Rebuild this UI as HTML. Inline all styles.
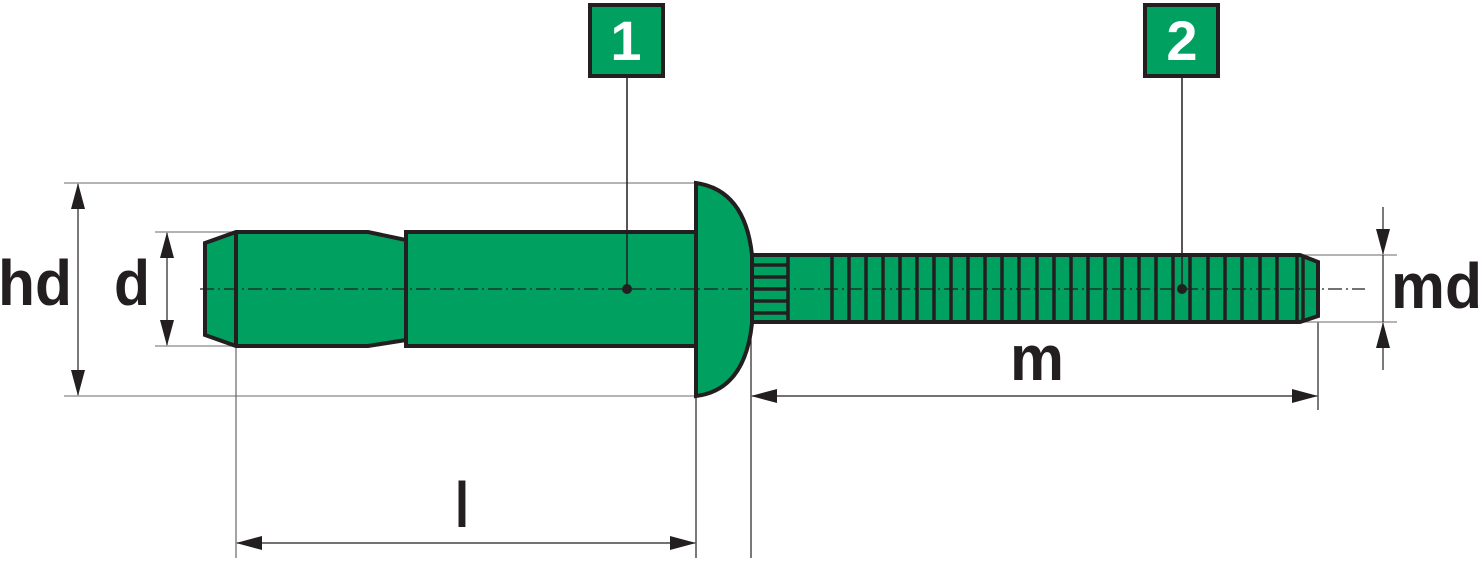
<!DOCTYPE html>
<html><head><meta charset="utf-8"><style>
html,body{margin:0;padding:0;background:#fff;}
svg{display:block;}
text{font-family:"Liberation Sans",sans-serif;font-weight:bold;}
</style></head><body>
<svg width="1482" height="562" viewBox="0 0 1482 562" xmlns="http://www.w3.org/2000/svg">
<defs>
<marker id="a" markerWidth="26" markerHeight="16" refX="25" refY="8" orient="auto" markerUnits="userSpaceOnUse">
<path d="M0,1 L26,8 L0,15 Z" fill="#231f20"/></marker>
</defs>
<g stroke="#231f20" stroke-width="1.2" fill="none">
<!-- hd extension -->
<line x1="64" y1="183" x2="696" y2="183" stroke="#888"/>
<line x1="64" y1="396" x2="696" y2="396" stroke="#888"/>
<line x1="78" y1="289" x2="78" y2="184" marker-end="url(#a)"/>
<line x1="78" y1="289" x2="78" y2="395" marker-end="url(#a)"/>
<!-- d -->
<line x1="155" y1="232" x2="236" y2="232" stroke="#888"/>
<line x1="155" y1="346" x2="236" y2="346" stroke="#888"/>
<line x1="167" y1="289" x2="167" y2="233" marker-end="url(#a)"/>
<line x1="167" y1="289" x2="167" y2="345" marker-end="url(#a)"/>
<!-- l -->
<line x1="236" y1="346" x2="236" y2="558" stroke="#666"/>
<line x1="696" y1="396" x2="696" y2="558"/>
<line x1="466" y1="543" x2="237" y2="543" marker-end="url(#a)"/>
<line x1="466" y1="543" x2="695" y2="543" marker-end="url(#a)"/>
<!-- m -->
<line x1="751" y1="323" x2="751" y2="558"/>
<line x1="1318" y1="322" x2="1318" y2="410"/>
<line x1="1035" y1="396" x2="752" y2="396" marker-end="url(#a)"/>
<line x1="1035" y1="396" x2="1317" y2="396" marker-end="url(#a)"/>
<!-- md -->
<line x1="1303" y1="255" x2="1397" y2="255" stroke="#888"/>
<line x1="1303" y1="322" x2="1397" y2="322" stroke="#888"/>
<line x1="1383" y1="207" x2="1383" y2="254" marker-end="url(#a)"/>
<line x1="1383" y1="370" x2="1383" y2="323" marker-end="url(#a)"/>
<line x1="1383" y1="255" x2="1383" y2="322"/>
</g>
<!-- sleeve -->
<g stroke="#231f20" stroke-width="4" fill="#00a160" stroke-linejoin="miter">
<path d="M205,243 L236,232 L368,232 L406,240 L406,340 L368,346 L236,346 L205,335 Z"/>
<line x1="236" y1="232" x2="236" y2="346"/>
<rect x="406" y="232" width="290" height="114"/>
<path d="M752,255 L1300,255 L1318,262 L1318,316 L1300,322 L752,322 Z"/>
<path d="M696,183 Q745,190 752,255 L752,323 Q745,390 696,396 Z"/>
</g>
<g stroke="#231f20" stroke-width="3.5">
<line x1="753" y1="265" x2="788" y2="265"/>
<line x1="753" y1="277" x2="788" y2="277"/>
<line x1="753" y1="289" x2="788" y2="289"/>
<line x1="753" y1="301" x2="788" y2="301"/>
<line x1="753" y1="313" x2="788" y2="313"/>
<line x1="788" y1="255" x2="788" y2="322"/>
<g id="k">
<line x1="832" y1="255" x2="832" y2="322"/><line x1="849" y1="255" x2="849" y2="322"/><line x1="866" y1="255" x2="866" y2="322"/><line x1="883" y1="255" x2="883" y2="322"/><line x1="900" y1="255" x2="900" y2="322"/><line x1="917" y1="255" x2="917" y2="322"/><line x1="934" y1="255" x2="934" y2="322"/><line x1="951" y1="255" x2="951" y2="322"/><line x1="968" y1="255" x2="968" y2="322"/><line x1="985" y1="255" x2="985" y2="322"/><line x1="1002" y1="255" x2="1002" y2="322"/><line x1="1019" y1="255" x2="1019" y2="322"/><line x1="1037" y1="255" x2="1037" y2="322"/><line x1="1054" y1="255" x2="1054" y2="322"/><line x1="1071" y1="255" x2="1071" y2="322"/><line x1="1088" y1="255" x2="1088" y2="322"/><line x1="1105" y1="255" x2="1105" y2="322"/><line x1="1122" y1="255" x2="1122" y2="322"/><line x1="1139" y1="255" x2="1139" y2="322"/><line x1="1156" y1="255" x2="1156" y2="322"/><line x1="1173" y1="255" x2="1173" y2="322"/><line x1="1190" y1="255" x2="1190" y2="322"/><line x1="1208" y1="255" x2="1208" y2="322"/><line x1="1225" y1="255" x2="1225" y2="322"/><line x1="1242" y1="255" x2="1242" y2="322"/><line x1="1260" y1="255" x2="1260" y2="322"/><line x1="1277" y1="255" x2="1277" y2="322"/><line x1="1297" y1="255" x2="1297" y2="322"/><line x1="1303" y1="256" x2="1303" y2="321"/>
</g>
</g>
<!-- center line -->
<line x1="200" y1="289" x2="1365" y2="289" stroke="#231f20" stroke-width="1.2" stroke-dasharray="14,4,2,4"/>
<!-- leaders -->
<line x1="627" y1="77" x2="627" y2="289" stroke="#231f20" stroke-width="1.5"/>
<line x1="1182" y1="77" x2="1182" y2="289" stroke="#231f20" stroke-width="1.5"/>
<circle cx="627" cy="289" r="5" fill="#231f20"/>
<circle cx="1182" cy="289" r="5" fill="#231f20"/>
<rect x="590" y="5" width="73" height="71" fill="#00a160" stroke="#231f20" stroke-width="4"/>
<rect x="1145" y="5" width="73" height="71" fill="#00a160" stroke="#231f20" stroke-width="4"/>
<text x="626" y="60" font-size="56" fill="#fff" text-anchor="middle">1</text>
<text x="1182" y="60" font-size="56" fill="#fff" text-anchor="middle">2</text>
<!-- labels -->
<g fill="#231f20" font-size="64">
<text x="-2" y="305" textLength="74" lengthAdjust="spacingAndGlyphs">hd</text>
<text x="114" y="305" textLength="36" lengthAdjust="spacingAndGlyphs">d</text>
<text x="455" y="527" textLength="14" lengthAdjust="spacingAndGlyphs">l</text>
<text x="1010" y="380" textLength="54" lengthAdjust="spacingAndGlyphs">m</text>
<text x="1391" y="308" textLength="91" lengthAdjust="spacingAndGlyphs">md</text>
</g>
</svg>
</body></html>
